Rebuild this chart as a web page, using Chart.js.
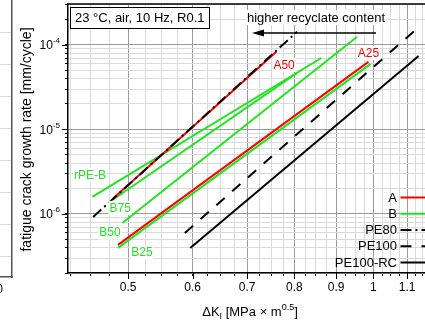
<!DOCTYPE html>
<html>
<head>
<meta charset="utf-8">
<script src="https://cdn.jsdelivr.net/npm/chart.js@4.4.1/dist/chart.umd.min.js"></script>
<style>
html,body{margin:0;padding:0;background:#fff;overflow:hidden;width:425px;height:325px;}
#wrap{position:relative;width:425px;height:325px;overflow:hidden;}
#left{position:absolute;left:-200px;top:0;}
#main{position:absolute;left:0;top:0;}
</style>
</head>
<body>
<div id="wrap">
<canvas id="left" width="213" height="325"></canvas>
<canvas id="main" width="445" height="325"></canvas>
</div>
<script>
// dK [MPa*m^0.5] and da/dN [mm/cycle], end points of the fitted Paris lines
const dK_A50 = [0.479, 0.760];     const rate_A50 = [1.51e-6, 8.3e-5];
const dK_A25 = [0.486, 0.986];     const rate_A25 = [4.3e-7, 6.3e-5];
const dK_rPEB = [0.452, 0.863];    const rate_rPEB = [1.59e-6, 7.0e-5];
const dK_B75 = [0.479, 0.806];     const rate_B75 = [1.47e-6, 4.67e-5];
const dK_B50 = [0.492, 0.955];     const rate_B50 = [7.8e-7, 1.25e-4];
const dK_B25 = [0.486, 0.992];     const rate_B25 = [3.96e-7, 5.96e-5];
const dK_PE80 = [0.453, 0.806];    const rate_PE80 = [9.2e-7, 1.43e-4];
const dK_PE100 = [0.587, 1.123];   const rate_PE100 = [5.96e-7, 1.47e-4];
const dK_PE100RC = [0.596, 1.136]; const rate_PE100RC = [3.96e-7, 7.41e-5];

const xTickLabels = ['0.5','0.6','0.7','0.8','0.9','1','1.1'];
const yDecades = [-6, -5, -4];
const legendLabels = ['A', 'B', 'PE80', 'PE100', 'PE100-RC'];
const legendSeries = ['A50', 'rPE-B', 'PE80', 'PE100', 'PE100-RC'];

const FONT = "'Liberation Sans', Arial, sans-serif";
const RED = '#ff0000';
const GREEN = '#1ee61e';
Chart.defaults.font.family = FONT;

// labels next to the lines (data coords)
const lineLabels = [
  {text:'A50', x:0.777, y:5.8e-5, color:RED},
  {text:'A25', x:0.986, y:8.0e-5, color:RED},
  {text:'rPE-B', x:0.449, y:2.9e-6, color:GREEN},
  {text:'B75', x:0.489, y:1.18e-6, color:GREEN},
  {text:'B50', x:0.475, y:6.0e-7, color:GREEN},
  {text:'B25', x:0.520, y:3.55e-7, color:GREEN}
];

function pts(xs, ys) { return xs.map(function(x, i) { return {x: x, y: ys[i]}; }); }
function line(label, xs, ys, color, dash) {
  return {label: label, data: pts(xs, ys), borderColor: color, backgroundColor: color,
    borderDash: dash || [], borderWidth: 2, showLine: true, pointRadius: 0, fill: false, tension: 0};
}

const datasets = [
  line('PE80', dK_PE80, rate_PE80, '#000', [11, 4, 2, 4]),
  line('PE100', dK_PE100, rate_PE100, '#000', [11, 10]),
  line('PE100-RC', dK_PE100RC, rate_PE100RC, '#000'),
  line('A50', dK_A50, rate_A50, RED),
  line('A25', dK_A25, rate_A25, RED),
  line('rPE-B', dK_rPEB, rate_rPEB, GREEN),
  line('B75', dK_B75, rate_B75, GREEN),
  line('B50', dK_B50, rate_B50, GREEN),
  line('B25', dK_B25, rate_B25, GREEN)
];

function isMajorX(v) { return Math.abs(v * 10 - Math.round(v * 10)) < 1e-6; }
function isMajorY(v) { var l = Math.log10(v); return Math.abs(l - Math.round(l)) < 1e-6; }

const decor = {
  id: 'decor',
  afterDatasetsDraw(chart) {
    const ctx = chart.ctx, a = chart.chartArea, x = chart.scales.x, y = chart.scales.y;
    ctx.save();
    // frame top and right
    ctx.strokeStyle = '#000'; ctx.lineWidth = 1.5;
    ctx.beginPath(); ctx.moveTo(a.left, a.top); ctx.lineTo(a.right, a.top); ctx.lineTo(a.right, a.bottom); ctx.stroke();

    // longer major ticks
    ctx.lineWidth = 1;
    ctx.beginPath();
    yDecades.forEach(function(e) { var py = Math.round(y.getPixelForValue(Math.pow(10, e))) + 0.5; ctx.moveTo(a.left - 6, py); ctx.lineTo(a.left, py); });
    x.ticks.forEach(function(t) { if (isMajorX(t.value)) { var px = Math.round(x.getPixelForValue(t.value)) + 0.5; ctx.moveTo(px, a.bottom); ctx.lineTo(px, a.bottom + 6); } });
    ctx.stroke();

    // y tick labels 10^n
    ctx.fillStyle = '#000'; ctx.textBaseline = 'alphabetic'; ctx.textAlign = 'left';
    yDecades.forEach(function(e) {
      var py = y.getPixelForValue(Math.pow(10, e));
      ctx.font = '12px ' + FONT; var w1 = ctx.measureText('10').width;
      ctx.font = '8px ' + FONT; var w2 = ctx.measureText(String(e)).width;
      var x0 = 60 - w1 - w2;
      ctx.font = '12px ' + FONT; ctx.fillText('10', x0, py + 4.3);
      ctx.font = '8px ' + FONT; ctx.fillText(String(e), x0 + w1, py - 1.5);
    });

    // y title
    ctx.save();
    ctx.translate(27, (a.top + a.bottom) / 2 + 1); ctx.rotate(-Math.PI / 2);
    ctx.font = '14px ' + FONT; ctx.textAlign = 'center'; ctx.textBaseline = 'middle';
    ctx.fillText('fatigue crack growth rate [mm/cycle]', 0, 0);
    ctx.restore();

    // x title with sub/superscript
    var parts = [['\u0394K', 13, 0], ['I', 9, 3], [' [MPa \u00d7 m', 13, 0], ['0.5', 9, -6], [']', 13, 0]];
    var tot = 0;
    parts.forEach(function(p) { ctx.font = p[1] + 'px ' + FONT; tot += ctx.measureText(p[0]).width; });
    var cx = 250 - tot / 2;
    parts.forEach(function(p) { ctx.font = p[1] + 'px ' + FONT; ctx.fillText(p[0], cx, 316 + p[2]); cx += ctx.measureText(p[0]).width; });

    // line labels
    ctx.font = '12px ' + FONT; ctx.textAlign = 'center'; ctx.textBaseline = 'middle';
    lineLabels.forEach(function(l) {
      var px = x.getPixelForValue(l.x), py = y.getPixelForValue(l.y);
      var w = ctx.measureText(l.text).width;
      ctx.fillStyle = '#fff'; ctx.fillRect(px - w / 2 - 1, py - 7, w + 2, 14);
      ctx.fillStyle = l.color; ctx.fillText(l.text, px, py + 0.5);
    });

    // conditions box
    ctx.fillStyle = '#fff'; ctx.fillRect(70, 7, 139, 21);
    ctx.strokeStyle = '#000'; ctx.lineWidth = 1; ctx.strokeRect(70.5, 7.5, 139, 21);
    ctx.fillStyle = '#000'; ctx.font = '13px ' + FONT; ctx.textAlign = 'left';
    ctx.fillText('23 \u00b0C, air, 10 Hz, R0.1', 75, 18);

    // recyclate arrow
    ctx.textAlign = 'center';
    var tw = ctx.measureText('higher recyclate content').width;
    ctx.fillStyle = '#fff'; ctx.fillRect(316 - tw / 2 - 1, 10, tw + 2, 15);
    ctx.fillStyle = '#000'; ctx.fillText('higher recyclate content', 316, 18);
    ctx.lineWidth = 1.5;
    ctx.beginPath(); ctx.moveTo(262, 33); ctx.lineTo(376, 33); ctx.stroke();
    ctx.beginPath(); ctx.moveTo(252, 33); ctx.lineTo(264, 29.5); ctx.lineTo(264, 36.5); ctx.closePath(); ctx.fill();

    // legend
    ctx.font = '13px ' + FONT; ctx.textAlign = 'right'; ctx.textBaseline = 'middle';
    legendLabels.forEach(function(lab, i) {
      var ds = chart.data.datasets.find(function(d) { return d.label === legendSeries[i]; });
      var py = 197.5 + i * 16.25;
      ctx.fillStyle = '#000'; ctx.fillText(lab, 397, py + 0.5);
      ctx.strokeStyle = ds.borderColor; ctx.lineWidth = ds.borderWidth; ctx.setLineDash(ds.borderDash);
      ctx.beginPath(); ctx.moveTo(400.5, py); ctx.lineTo(445, py); ctx.stroke();
      ctx.setLineDash([]);
    });
    ctx.restore();
  }
};

new Chart(document.getElementById('main'), {
  type: 'scatter',
  data: {datasets: datasets},
  options: {
    responsive: false, animation: false,
    layout: {padding: {left: 0, top: 4, right: 7, bottom: 0}},
    plugins: {legend: {display: false}, tooltip: {enabled: false}},
    scales: {
      x: {
        type: 'logarithmic', min: 0.422, max: 1.2,
        afterBuildTicks: function(s) {
          var t = [];
          for (var v = 0.425; v < 1.2 + 1e-9; v += 0.025) t.push({value: Math.round(v * 1000) / 1000});
          s.ticks = t;
        },
        afterFit: function(s) { s.height = 52; },
        ticks: {
          autoSkip: false, maxRotation: 0, minRotation: 0, padding: 4, color: '#000', font: {size: 12},
          callback: function(v) {
            var i = Math.round(v * 10) - 5;
            return (isMajorX(v) && i >= 0 && i < xTickLabels.length) ? xTickLabels[i] : '';
          }
        },
        grid: {color: function(c) { return isMajorX(c.tick.value) ? '#9a9a9a' : '#dadada'; }, tickColor: '#000', tickLength: 3, lineWidth: 1},
        border: {color: '#000', width: 1.5}
      },
      y: {
        type: 'logarithmic', min: 2.0e-7, max: 3.05e-4,
        afterBuildTicks: function(s) {
          var t = [];
          for (var e = -7; e <= -4; e++) for (var m = 1; m <= 9; m++) {
            var v = m * Math.pow(10, e);
            if (v >= 2.0e-7 && v <= 3.05e-4) t.push({value: v});
          }
          s.ticks = t;
        },
        afterFit: function(s) { s.width = 68; },
        ticks: {display: false},
        grid: {color: function(c) { return isMajorY(c.tick.value) ? '#9a9a9a' : '#dadada'; }, tickColor: '#000', tickLength: 3, lineWidth: 1},
        border: {color: '#000', width: 1.5}
      }
    }
  },
  plugins: [decor]
});

// neighbouring panel, only its right edge is visible
new Chart(document.getElementById('left'), {
  type: 'scatter',
  data: {datasets: []},
  options: {
    responsive: false, animation: false,
    layout: {padding: {left: 0, top: 0, right: 1, bottom: 0}},
    plugins: {legend: {display: false}, tooltip: {enabled: false}},
    scales: {
      x: {
        type: 'linear', min: 0, max: 1.2,
        afterBuildTicks: function(s) { s.ticks = [{value: 0}, {value: 0.5}, {value: 1}]; },
        afterFit: function(s) { s.height = 48; },
        ticks: {padding: 5, color: '#000', font: {size: 12}, callback: function(v) { return v.toFixed(1); }},
        grid: {display: false, drawTicks: false},
        border: {color: '#555', width: 1.5}
      },
      y: {
        type: 'linear', min: -0.656, max: 8,
        afterBuildTicks: function(s) { var t = []; for (var i = 0; i < 8; i++) t.push({value: i}); s.ticks = t; },
        afterFit: function(s) { s.width = 108; },
        ticks: {display: false},
        grid: {color: '#dadada', drawTicks: false},
        border: {display: false}
      },
      y2: {
        type: 'linear', position: 'right', min: 0, max: 1,
        afterFit: function(s) { s.width = 0; },
        ticks: {display: false},
        grid: {display: false, drawTicks: false},
        border: {color: '#555', width: 1.5}
      }
    }
  }
});
</script>
</body>
</html>
